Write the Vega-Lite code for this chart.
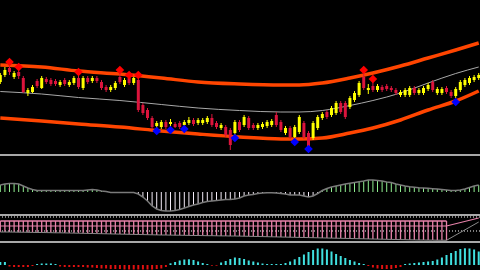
{
"$schema": "https://vega.github.io/schema/vega-lite/v6.json",
"background": "#000000",
"padding": 0,
"spacing": 0,
"bounds": "flush",
"config": {"view": {"stroke": null}, "axis": {"disable": true}, "concat": {"spacing": 0}, "scale": {"continuousPadding": 0}},
"datasets": {
"c": [
{"i":0,"o":71,"c":78,"h":80,"l":69,"m":7,"b":3,"dn":9},
{"i":1,"o":78,"c":83,"h":86,"l":76,"m":8,"b":3,"dn":9},
{"i":2,"o":85,"c":81,"h":87,"l":78,"m":8.5,"b":-1.5,"dn":9,"s":91,"t":"r"},
{"i":3,"o":76,"c":80,"h":82,"l":74,"m":8.5,"b":-2,"dn":8.9},
{"i":4,"o":81,"c":77,"h":83,"l":74,"m":8,"b":-2,"dn":8.8,"s":86,"t":"r"},
{"i":5,"o":75,"c":61,"h":77,"l":60,"m":6,"b":-2,"dn":8.8},
{"i":6,"o":60,"c":63,"h":65,"l":57,"m":4,"b":-2,"dn":8.7},
{"i":7,"o":61,"c":66,"h":68,"l":60,"m":2.5,"b":-1,"dn":8.6},
{"i":8,"o":72,"c":67,"h":74,"l":65,"m":1.5,"b":1,"dn":8.5},
{"i":9,"o":65,"c":75,"h":77,"l":64,"m":1.5,"b":1.5,"dn":8.5},
{"i":10,"o":74,"c":71,"h":76,"l":69,"m":1.5,"b":1.5,"dn":8.4},
{"i":11,"o":73,"c":69,"h":75,"l":67,"m":1.5,"b":1.5,"dn":8.3},
{"i":12,"o":72,"c":69,"h":74,"l":67,"m":1.5,"b":1,"dn":8.2},
{"i":13,"o":68,"c":71,"h":73,"l":66,"m":1.5,"b":-1.5,"dn":8.2},
{"i":14,"o":73,"c":69,"h":75,"l":67,"m":1.5,"b":-2,"dn":8.1},
{"i":15,"o":68,"c":71,"h":73,"l":66,"m":1.5,"b":-2,"dn":8},
{"i":16,"o":70,"c":75,"h":77,"l":68,"m":1.5,"b":-2,"dn":7.9},
{"i":17,"o":75,"c":66,"h":79,"l":64,"m":1.5,"b":-2,"dn":7.8,"s":81,"t":"r"},
{"i":18,"o":65,"c":75,"h":77,"l":63,"m":1.5,"b":-2,"dn":7.7},
{"i":19,"o":75,"c":71,"h":77,"l":69,"m":2,"b":-2.5,"dn":7.6},
{"i":20,"o":72,"c":75,"h":77,"l":70,"m":2.5,"b":-2.5,"dn":7.5},
{"i":21,"o":75,"c":72,"h":77,"l":70,"m":2,"b":-3,"dn":7.4},
{"i":22,"o":71,"c":65,"h":73,"l":63,"m":1,"b":-3.5,"dn":7.3},
{"i":23,"o":66,"c":63,"h":68,"l":61,"m":0.5,"b":-3.5,"dn":7.2},
{"i":24,"o":63,"c":66,"h":68,"l":61,"m":-0.5,"b":-4,"dn":7.1},
{"i":25,"o":65,"c":70,"h":72,"l":63,"m":-0.5,"b":-4,"dn":7},
{"i":26,"o":76,"c":71,"h":80,"l":69,"m":-0.5,"b":-4,"dn":6.9,"s":83,"t":"r"},
{"i":27,"o":68,"c":73,"h":75,"l":66,"m":-0.5,"b":-4.5,"dn":6.8},
{"i":28,"o":75,"c":70,"h":77,"l":68,"m":-0.5,"b":-4.5,"dn":6.7,"s":78,"t":"r"},
{"i":29,"o":70,"c":75,"h":76,"l":68,"m":-0.5,"b":-4.5,"dn":6.6},
{"i":30,"o":73,"c":43,"h":76,"l":41,"m":-2,"b":-4.5,"dn":6.5,"s":78,"t":"r"},
{"i":31,"o":48,"c":40,"h":50,"l":38,"m":-5,"b":-4.5,"dn":6.4},
{"i":32,"o":43,"c":35,"h":45,"l":33,"m":-9,"b":-4.5,"dn":6.3},
{"i":33,"o":35,"c":26,"h":37,"l":24,"m":-14,"b":-4.5,"dn":6.2},
{"i":34,"o":27,"c":30,"h":32,"l":25,"m":-17,"b":-4,"dn":6.1,"s":22,"t":"b"},
{"i":35,"o":26,"c":31,"h":33,"l":24,"m":-18.5,"b":-3.5,"dn":6},
{"i":36,"o":31,"c":26,"h":33,"l":24,"m":-19,"b":-2,"dn":6},
{"i":37,"o":29,"c":31,"h":34,"l":26,"m":-19,"b":1.7,"dn":5.9,"s":23,"t":"b"},
{"i":38,"o":29,"c":26,"h":31,"l":25,"m":-18.5,"b":3,"dn":5.8},
{"i":39,"o":30,"c":26,"h":32,"l":24,"m":-17.5,"b":4.5,"dn":5.8},
{"i":40,"o":28,"c":31,"h":33,"l":26,"m":-16,"b":5.5,"dn":5.7,"s":24,"t":"b"},
{"i":41,"o":30,"c":33,"h":36,"l":28,"m":-14.5,"b":5.7,"dn":5.6},
{"i":42,"o":33,"c":29,"h":35,"l":27,"m":-13,"b":5,"dn":5.5},
{"i":43,"o":30,"c":33,"h":35,"l":28,"m":-12,"b":3.5,"dn":5.5},
{"i":44,"o":30,"c":33,"h":35,"l":28,"m":-10.5,"b":2,"dn":5.4},
{"i":45,"o":31,"c":35,"h":37,"l":29,"m":-9.5,"b":1,"dn":5.3},
{"i":46,"o":35,"c":28,"h":39,"l":26,"m":-9,"b":-0.7,"dn":5.3},
{"i":47,"o":30,"c":26,"h":32,"l":24,"m":-8.5,"b":-0.7,"dn":5.2},
{"i":48,"o":25,"c":28,"h":30,"l":23,"m":-8,"b":2.5,"dn":5.1},
{"i":49,"o":26,"c":18,"h":28,"l":16,"m":-7.5,"b":4,"dn":5.1},
{"i":50,"o":23,"c":8,"h":25,"l":3,"m":-7.5,"b":6,"dn":5},
{"i":51,"o":20,"c":31,"h":33,"l":18,"m":-7,"b":7.5,"dn":5,"s":15,"t":"b"},
{"i":52,"o":31,"c":23,"h":33,"l":21,"m":-6,"b":7,"dn":4.9},
{"i":53,"o":28,"c":36,"h":38,"l":26,"m":-4,"b":6,"dn":4.8},
{"i":54,"o":35,"c":25,"h":37,"l":23,"m":-3,"b":4.5,"dn":4.7},
{"i":55,"o":28,"c":25,"h":30,"l":23,"m":-2.5,"b":3.5,"dn":4.6},
{"i":56,"o":25,"c":28,"h":30,"l":23,"m":-1.5,"b":2.5,"dn":4.5},
{"i":57,"o":26,"c":29,"h":31,"l":24,"m":-1,"b":1.5,"dn":4.4},
{"i":58,"o":27,"c":31,"h":33,"l":25,"m":-0.7,"b":1,"dn":4.3},
{"i":59,"o":28,"c":32,"h":34,"l":26,"m":-0.7,"b":1,"dn":4.2},
{"i":60,"o":38,"c":28,"h":41,"l":26,"m":-1,"b":1,"dn":4.1},
{"i":61,"o":31,"c":23,"h":33,"l":21,"m":-1.5,"b":1,"dn":4},
{"i":62,"o":20,"c":25,"h":27,"l":18,"m":-2,"b":2,"dn":3.9},
{"i":63,"o":25,"c":16,"h":27,"l":14,"m":-3,"b":3.5,"dn":3.8},
{"i":64,"o":16,"c":26,"h":28,"l":14,"m":-3,"b":5.7,"dn":3.7,"s":11,"t":"b"},
{"i":65,"o":21,"c":36,"h":38,"l":19,"m":-3,"b":8,"dn":3.6},
{"i":66,"o":30,"c":16,"h":32,"l":14,"m":-4,"b":10.5,"dn":3.5},
{"i":67,"o":20,"c":7,"h":22,"l":5,"m":-5,"b":13,"dn":3.4,"s":4,"t":"b"},
{"i":68,"o":15,"c":30,"h":32,"l":13,"m":-4,"b":15,"dn":3.3},
{"i":69,"o":25,"c":36,"h":38,"l":23,"m":-1.5,"b":16.5,"dn":3.2},
{"i":70,"o":35,"c":39,"h":41,"l":33,"m":1.5,"b":16.5,"dn":3.1},
{"i":71,"o":41,"c":36,"h":43,"l":34,"m":3.5,"b":15.5,"dn":3},
{"i":72,"o":38,"c":45,"h":47,"l":36,"m":5,"b":13.5,"dn":2.9},
{"i":73,"o":40,"c":50,"h":52,"l":38,"m":6,"b":11,"dn":2.8},
{"i":74,"o":50,"c":41,"h":52,"l":39,"m":7,"b":9,"dn":2.7},
{"i":75,"o":50,"c":36,"h":52,"l":34,"m":8,"b":7,"dn":2.6},
{"i":76,"o":46,"c":55,"h":57,"l":44,"m":8.7,"b":5,"dn":2.5},
{"i":77,"o":53,"c":60,"h":62,"l":51,"m":9.5,"b":3.5,"dn":2.4},
{"i":78,"o":58,"c":70,"h":72,"l":56,"m":10.3,"b":2,"dn":2.3},
{"i":79,"o":76,"c":65,"h":79,"l":63,"m":11,"b":1,"dn":2.2,"s":83,"t":"r"},
{"i":80,"o":63,"c":65,"h":69,"l":59,"m":12,"b":-1,"dn":2.1},
{"i":81,"o":67,"c":63,"h":71,"l":61,"m":12,"b":-2.5,"dn":2,"s":74,"t":"r"},
{"i":82,"o":63,"c":67,"h":69,"l":61,"m":11.5,"b":-3.5,"dn":1.9},
{"i":83,"o":66,"c":63,"h":68,"l":61,"m":11,"b":-4,"dn":1.8},
{"i":84,"o":67,"c":64,"h":69,"l":62,"m":10,"b":-4,"dn":1.7},
{"i":85,"o":65,"c":63,"h":67,"l":61,"m":9.5,"b":-4,"dn":1.6},
{"i":86,"o":63,"c":60,"h":65,"l":58,"m":8,"b":-3,"dn":1.5},
{"i":87,"o":58,"c":61,"h":63,"l":56,"m":7,"b":-2,"dn":1.4},
{"i":88,"o":58,"c":63,"h":65,"l":56,"m":6,"b":1,"dn":1.3},
{"i":89,"o":58,"c":65,"h":67,"l":56,"m":5.3,"b":1.5,"dn":1.2},
{"i":90,"o":65,"c":60,"h":67,"l":58,"m":4.8,"b":2,"dn":1.1},
{"i":91,"o":60,"c":63,"h":65,"l":58,"m":4.3,"b":2.5,"dn":1},
{"i":92,"o":60,"c":65,"h":67,"l":58,"m":4,"b":3,"dn":1},
{"i":93,"o":64,"c":68,"h":70,"l":62,"m":3.7,"b":3.5,"dn":0.9},
{"i":94,"o":71,"c":63,"h":73,"l":61,"m":3.3,"b":4,"dn":0.9},
{"i":95,"o":60,"c":64,"h":66,"l":58,"m":3,"b":5.5,"dn":0.8},
{"i":96,"o":60,"c":64,"h":66,"l":58,"m":2.5,"b":7.5,"dn":0.8},
{"i":97,"o":65,"c":61,"h":67,"l":59,"m":2,"b":10,"dn":0.7},
{"i":98,"o":61,"c":57,"h":63,"l":55,"m":1.5,"b":12},
{"i":99,"o":57,"c":64,"h":66,"l":55,"m":1.5,"b":14,"s":51,"t":"b"},
{"i":100,"o":63,"c":71,"h":73,"l":61,"m":2,"b":16},
{"i":101,"o":68,"c":73,"h":75,"l":66,"m":3,"b":16.7},
{"i":102,"o":70,"c":75,"h":77,"l":68,"m":4.5,"b":16.5},
{"i":103,"o":73,"c":76,"h":78,"l":71,"m":6,"b":15.5},
{"i":104,"o":75,"c":78,"h":80,"l":73,"m":7,"b":13.5,"dn":19}
],
"band": [
{"i":0,"u":88,"md":61.5,"lo":35},
{"i":9,"u":86,"md":59,"lo":32},
{"i":17,"u":82,"md":55.5,"lo":29},
{"i":26,"u":79,"md":52.5,"lo":26},
{"i":35,"u":75,"md":48.5,"lo":22},
{"i":43,"u":71,"md":45,"lo":19},
{"i":52,"u":69,"md":42.5,"lo":16},
{"i":61,"u":68,"md":41,"lo":14},
{"i":65,"u":68,"md":41,"lo":14},
{"i":70,"u":70,"md":42.5,"lo":15},
{"i":76,"u":75,"md":47.5,"lo":20},
{"i":81,"u":80,"md":52.5,"lo":25},
{"i":87,"u":87,"md":60,"lo":33},
{"i":93,"u":95,"md":70,"lo":43},
{"i":99,"u":103,"md":79.5,"lo":52},
{"i":104,"u":110,"md":86,"lo":62}
],
"pk": [
{"i":0,"v":15},
{"i":97,"v":15},
{"i":104,"v":23}
],
"pt": [
{"i":0,"v":20},
{"i":97,"v":20}
]
},
"vconcat": [
{
"width": 480, "height": 154,
"data": {"name": "c"},
"layer": [
{"data": {"name": "band"}, "mark": {"type": "line", "clip": true, "color": "#ff4500", "strokeWidth": 3.5, "interpolate": "monotone"},
 "encoding": {"x": {"field": "i", "type": "quantitative", "scale": {"domain": [-0.065, 104.28], "nice": false, "zero": false, "padding": 0}, "axis": null},
  "y": {"field": "u", "type": "quantitative", "scale": {"domain": [-1, 153], "nice": false, "zero": false, "padding": 0}, "axis": null}}},
{"data": {"name": "band"}, "mark": {"type": "line", "clip": true, "color": "#ff4500", "strokeWidth": 3.5, "interpolate": "monotone"},
 "encoding": {"x": {"field": "i", "type": "quantitative"}, "y": {"field": "lo", "type": "quantitative"}}},
{"data": {"name": "band"}, "mark": {"type": "line", "clip": true, "color": "#a8a8a8", "strokeWidth": 1, "interpolate": "monotone"},
 "encoding": {"x": {"field": "i", "type": "quantitative"}, "y": {"field": "md", "type": "quantitative"}}},
{"mark": {"type": "rule", "clip": true, "strokeWidth": 1},
 "encoding": {"x": {"field": "i", "type": "quantitative"}, "y": {"field": "l", "type": "quantitative"}, "y2": {"field": "h"},
  "color": {"condition": {"test": "datum.c >= datum.o", "value": "#ffff00"}, "value": "#dc143c"}}},
{"mark": {"type": "bar", "clip": true, "size": 3},
 "encoding": {"x": {"field": "i", "type": "quantitative"}, "y": {"field": "o", "type": "quantitative"}, "y2": {"field": "c"},
  "color": {"condition": {"test": "datum.c >= datum.o", "value": "#ffff00"}, "value": "#dc143c"}}},
{"transform": [{"filter": "isValid(datum.s)"}],
 "mark": {"type": "point", "clip": true, "shape": "diamond", "filled": true, "size": 75, "opacity": 1},
 "encoding": {"x": {"field": "i", "type": "quantitative"}, "y": {"field": "s", "type": "quantitative"},
  "color": {"condition": {"test": "datum.t == 'r'", "value": "#ff0000"}, "value": "#0000ff"}}}
]
},
{
"width": 480, "height": 60,
"data": {"name": "c"},
"layer": [
{"mark": {"type": "rule", "clip": true, "strokeWidth": 1},
 "encoding": {"x": {"field": "i", "type": "quantitative", "scale": {"domain": [-0.065, 104.28], "nice": false, "zero": false, "padding": 0}, "axis": null},
  "y": {"field": "m", "type": "quantitative", "scale": {"domain": [-22, 38], "nice": false, "zero": false}, "axis": null}, "y2": {"datum": 0},
  "color": {"condition": {"test": "datum.m >= 0", "value": "#90ee90"}, "value": "#f4ecf8"}}},
{"mark": {"type": "line", "clip": true, "color": "#7a7a7a", "strokeWidth": 1.5},
 "encoding": {"x": {"field": "i", "type": "quantitative"}, "y": {"field": "m", "type": "quantitative"}}},
{"mark": {"type": "rule", "clip": true, "color": "#a8a8a8", "strokeWidth": 2},
 "encoding": {"y": {"datum": 37.5}}}
]
},
{
"width": 480, "height": 27,
"data": {"name": "c"},
"layer": [
{"mark": {"type": "rule", "clip": true, "color": "#808080", "strokeWidth": 1, "strokeDash": [1, 2]},
 "encoding": {"y": {"datum": 24.3, "scale": {"domain": [0, 27], "nice": false, "zero": false}, "axis": null}}},
{"mark": {"type": "rule", "clip": true, "color": "#808080", "strokeWidth": 1, "strokeDash": [1, 2]},
 "encoding": {"y": {"datum": 10.3}}},
{"transform": [{"filter": "datum.i <= 97"}],
 "mark": {"type": "rule", "clip": true, "color": "#e882aa", "strokeWidth": 1.3},
 "encoding": {"x": {"field": "i", "type": "quantitative", "scale": {"domain": [-0.065, 104.28], "nice": false, "zero": false, "padding": 0}, "axis": null},
  "y": {"field": "dn", "type": "quantitative"}, "y2": {"datum": 20}}},
{"data": {"name": "pt"}, "mark": {"type": "line", "clip": true, "color": "#e882aa", "strokeWidth": 1.5},
 "encoding": {"x": {"field": "i", "type": "quantitative"}, "y": {"field": "v", "type": "quantitative"}}},
{"data": {"name": "pk"}, "mark": {"type": "line", "clip": true, "color": "#e882aa", "strokeWidth": 1.2},
 "encoding": {"x": {"field": "i", "type": "quantitative"}, "y": {"field": "v", "type": "quantitative"}}},
{"transform": [{"filter": "isValid(datum.dn)"}],
 "mark": {"type": "line", "clip": true, "color": "#8a8a8a", "strokeWidth": 1},
 "encoding": {"x": {"field": "i", "type": "quantitative"}, "y": {"field": "dn", "type": "quantitative"}}},
{"mark": {"type": "rule", "clip": true, "color": "#a8a8a8", "strokeWidth": 2},
 "encoding": {"y": {"datum": 26.5}}}
]
},
{
"width": 480, "height": 29,
"data": {"name": "c"},
"layer": [
{"mark": {"type": "rule", "clip": true, "strokeWidth": 2},
 "encoding": {"x": {"field": "i", "type": "quantitative", "scale": {"domain": [-0.065, 104.28], "nice": false, "zero": false, "padding": 0}, "axis": null},
  "y": {"field": "b", "type": "quantitative", "scale": {"domain": [-5, 24], "nice": false, "zero": false}, "axis": null}, "y2": {"datum": 0},
  "color": {"condition": {"test": "datum.b >= 0", "value": "#40e0e0"}, "value": "#e01010"}}},
{"mark": {"type": "rule", "clip": true, "color": "#a8a8a8", "strokeWidth": 2},
 "encoding": {"y": {"datum": 23.5}}}
]
}
]
}
